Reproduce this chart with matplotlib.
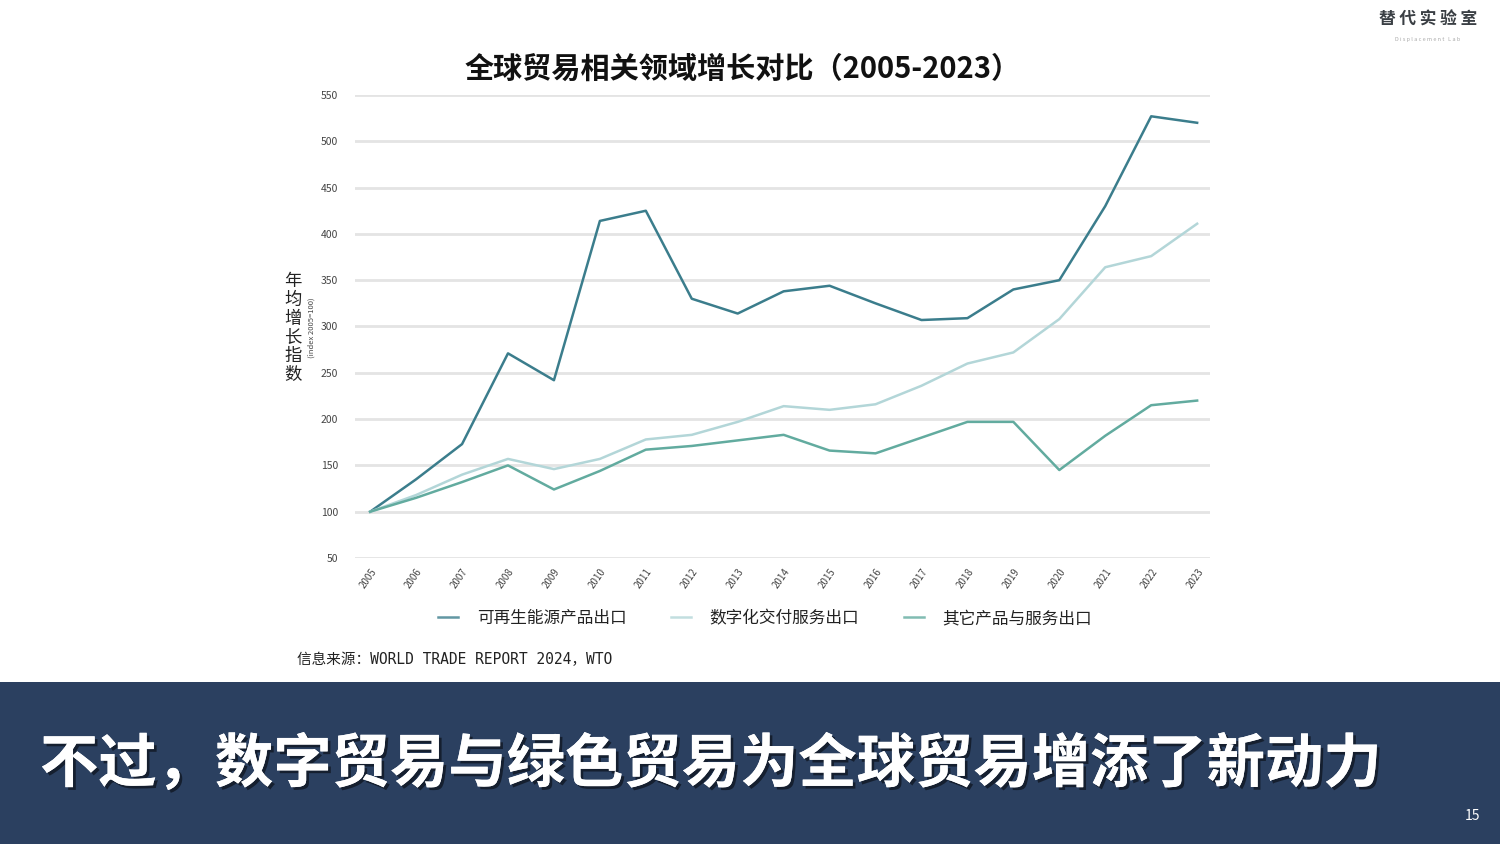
import matplotlib
matplotlib.use("Agg")
import matplotlib.pyplot as plt
import matplotlib.patheffects as pe

plt.rcParams['font.family'] = ['Noto Sans CJK SC', 'DejaVu Sans']

years = list(range(2005, 2024))
renewable = [100, 135, 173, 271, 242, 414, 425, 330, 314, 338, 344, 325, 307, 309, 340, 350, 430, 527, 520]
digital = [100, 118, 140, 157, 146, 157, 178, 183, 197, 214, 210, 216, 236, 260, 272, 308, 364, 376, 411]
other = [100, 115, 132, 150, 124, 144, 167, 171, 177, 183, 166, 163, 180, 197, 197, 145, 182, 215, 220]
series_names = ['可再生能源产品出口', '数字化交付服务出口', '其它产品与服务出口']
yticks = [50, 100, 150, 200, 250, 300, 350, 400, 450, 500, 550]

colors = ['#3b7d8c', '#b3d6d8', '#62ab9f']

fig = plt.figure(figsize=(15, 8.44), dpi=100)
W, H = 1500, 844

ax = fig.add_axes([355 / W, 1 - 558 / H, (1210 - 355) / W, (558 - 95) / H])
ax.set_xlim(2004.67, 2023.28)
ax.set_ylim(50, 550)
ax.set_yticks(yticks)
ax.set_xticks(years)
ax.grid(axis='y', color='#e4e4e4', linewidth=2)
ax.set_axisbelow(True)
for s in ax.spines.values():
    s.set_visible(False)
ax.tick_params(length=0)
ax.tick_params(axis='y', labelsize=7.5, labelcolor='#444444', pad=12)
ax.tick_params(axis='x', labelsize=7, labelcolor='#444444', pad=6)
for lab in ax.get_xticklabels():
    lab.set_rotation(55)
    lab.set_ha('right')
    lab.set_va('top')
    lab.set_rotation_mode('anchor')

for vals, c, name in zip([renewable, digital, other], colors, series_names):
    ax.plot(years, vals, color=c, linewidth=1.8, label=name, solid_joinstyle='round')

leg = ax.legend(loc='upper center', bbox_to_anchor=(0.48, -0.08), ncol=3, frameon=False,
                fontsize=12, handlelength=1.2, columnspacing=2.7, handletextpad=1.1)
for t in leg.get_texts():
    t.set_color('#222222')
for h in leg.get_lines():
    h.set_alpha(0.8)

fig.text(743 / W, 1 - 69 / H, '全球贸易相关领域增长对比（2005-2023）', fontsize=21, fontweight='bold',
         ha='center', va='center', color='#111111')

# y-axis label stacked
fig.text(293 / W, 1 - 328 / H, '年\n均\n增\n长\n指\n数', fontsize=12.5, ha='center', va='center',
         linespacing=1.05, color='#222222')
fig.text(312 / W, 1 - 328 / H, '(index 2005=100)', fontsize=5.5, rotation=90, ha='center', va='center',
         color='#444444')

fig.text(297 / W, 1 - 660 / H, '信息来源：WORLD TRADE REPORT 2024，WTO', fontsize=10.5, ha='left', va='center',
         family=['DejaVu Sans Mono', 'Noto Sans CJK SC'], color='#222222')

# logo
fig.text(1428 / W, 1 - 20 / H, '替 代 实 验 室', fontsize=12, ha='center', va='center', color='#3a3f44',
         fontweight='bold', family=['Noto Sans CJK SC'])
fig.text(1428 / W, 1 - 39 / H, 'D i s p l a c e m e n t   L a b', fontsize=4, ha='center', va='center',
         color='#aaaaaa')

# bottom banner
fig.patches.append(plt.Rectangle((0, 0), 1, (H - 682) / H, transform=fig.transFigure,
                                 facecolor='#2b4060', edgecolor='none', zorder=0))
fig.text(40 / W, 1 - 765 / H, '不过，数字贸易与绿色贸易为全球贸易增添了新动力', fontsize=42, fontweight='bold',
         ha='left', va='center', color='white',
         path_effects=[pe.withSimplePatchShadow(offset=(2, -2), shadow_rgbFace='#000000', alpha=0.5),
                       pe.Normal()])
fig.text(1472 / W, 1 - 816 / H, '15', fontsize=10, ha='center', va='center', color='white')

fig.savefig('out.png', dpi=100)
